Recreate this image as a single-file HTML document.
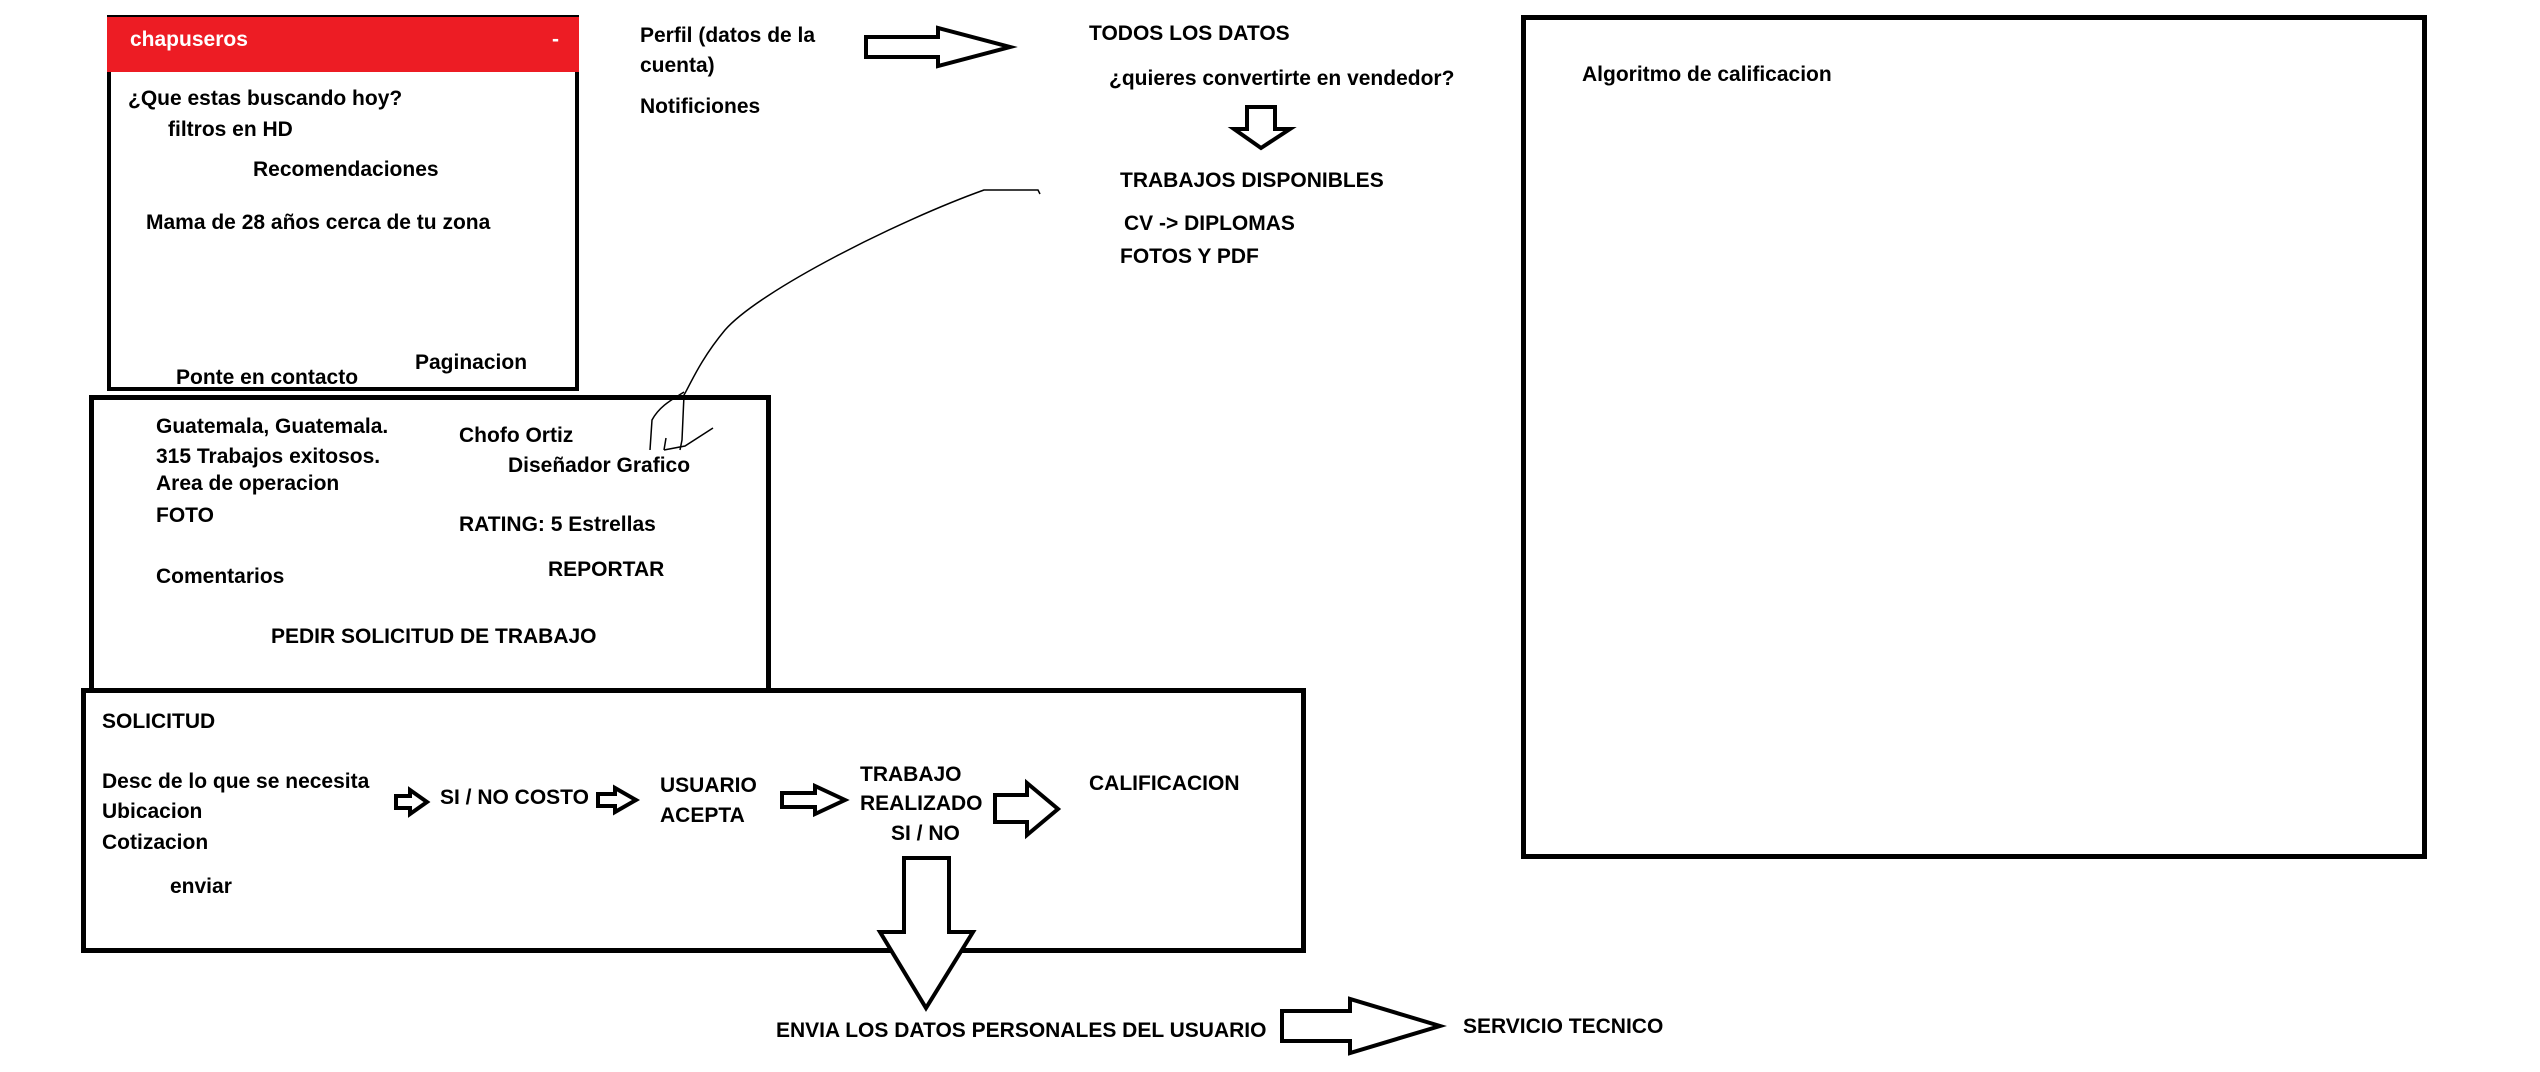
<!DOCTYPE html>
<html><head><meta charset="utf-8"><style>
body{margin:0;width:2540px;height:1072px;background:#fff;position:relative;overflow:hidden;font-family:"Liberation Sans",sans-serif;font-weight:bold;font-size:21px;color:#000}
.t{position:absolute;line-height:24px;white-space:nowrap}
.b{position:absolute;box-sizing:border-box;border:5px solid #000}
svg{position:absolute;left:0;top:0}
</style></head><body>
<div class="b" style="left:107px;top:15px;width:472px;height:376px;border-width:4px"></div>
<div style="position:absolute;left:107px;top:15px;width:472px;height:57px;background:#ed1c24;border-top:2px solid #000;box-sizing:border-box"></div>
<div class="t" style="left:130px;top:28px;color:#fff">chapuseros</div>
<div class="t" style="left:552px;top:28px;color:#fff">-</div>
<div class="t" style="left:128px;top:87px">¿Que estas buscando hoy?</div>
<div class="t" style="left:168px;top:118px">filtros en HD</div>
<div class="t" style="left:253px;top:158px">Recomendaciones</div>
<div class="t" style="left:146px;top:211px">Mama de 28 años cerca de tu zona</div>
<div class="t" style="left:415px;top:351px">Paginacion</div>
<div class="t" style="left:176px;top:366px">Ponte en contacto</div>

<div class="t" style="left:640px;top:24px">Perfil (datos de la</div>
<div class="t" style="left:640px;top:54px">cuenta)</div>
<div class="t" style="left:640px;top:95px">Notificiones</div>
<div class="t" style="left:1089px;top:22px">TODOS LOS DATOS</div>
<div class="t" style="left:1109px;top:67px">¿quieres convertirte en vendedor?</div>
<div class="t" style="left:1120px;top:169px">TRABAJOS DISPONIBLES</div>
<div class="t" style="left:1124px;top:212px">CV -&gt; DIPLOMAS</div>
<div class="t" style="left:1120px;top:245px">FOTOS Y PDF</div>

<div class="b" style="left:1521px;top:15px;width:906px;height:844px"></div>
<div class="t" style="left:1582px;top:63px">Algoritmo de calificacion</div>

<div class="b" style="left:89px;top:395px;width:682px;height:298px"></div>
<div class="t" style="left:156px;top:415px">Guatemala, Guatemala.</div>
<div class="t" style="left:156px;top:445px">315 Trabajos exitosos.</div>
<div class="t" style="left:156px;top:472px">Area de operacion</div>
<div class="t" style="left:156px;top:504px">FOTO</div>
<div class="t" style="left:459px;top:424px">Chofo Ortiz</div>
<div class="t" style="left:508px;top:454px">Diseñador Grafico</div>
<div class="t" style="left:459px;top:513px">RATING: 5 Estrellas</div>
<div class="t" style="left:156px;top:565px">Comentarios</div>
<div class="t" style="left:548px;top:558px">REPORTAR</div>
<div class="t" style="left:271px;top:625px">PEDIR SOLICITUD DE TRABAJO</div>

<div class="b" style="left:81px;top:688px;width:1225px;height:265px;background:transparent"></div>
<div class="t" style="left:102px;top:710px">SOLICITUD</div>
<div class="t" style="left:102px;top:770px">Desc de lo que se necesita</div>
<div class="t" style="left:102px;top:800px">Ubicacion</div>
<div class="t" style="left:102px;top:831px">Cotizacion</div>
<div class="t" style="left:170px;top:875px">enviar</div>
<div class="t" style="left:440px;top:786px">SI / NO COSTO</div>
<div class="t" style="left:660px;top:774px">USUARIO</div>
<div class="t" style="left:660px;top:804px">ACEPTA</div>
<div class="t" style="left:860px;top:763px">TRABAJO</div>
<div class="t" style="left:860px;top:792px">REALIZADO</div>
<div class="t" style="left:891px;top:822px">SI / NO</div>
<div class="t" style="left:1089px;top:772px">CALIFICACION</div>
<div class="t" style="left:776px;top:1019px">ENVIA LOS DATOS PERSONALES DEL USUARIO</div>
<div class="t" style="left:1463px;top:1015px">SERVICIO TECNICO</div>

<svg width="2540" height="1072" viewBox="0 0 2540 1072" fill="none" stroke="#000">
<g stroke-width="4" fill="#fff">
<polygon points="866,37 938,37 938,28 1010,47 938,66 938,57 866,57"/>
<polygon points="1247,107 1275,107 1275,129 1290,129 1261,148 1234,129 1247,129"/>
<polygon points="396,796 410,796 410,790 427,802 410,814 410,808 396,808"/>
<polygon points="598,794 615,794 615,788 636,800 615,812 615,806 598,806"/>
<polygon points="782,793 815,793 815,786 845,800 815,814 815,807 782,807"/>
<polygon points="995,795 1027,795 1027,783 1058,809 1027,835 1027,822 995,822"/>
<polygon points="904,858 949,858 949,932 973,932 926,1008 880,932 904,932"/>
<polygon points="1282,1011 1350,1011 1350,999 1440,1026 1350,1053 1350,1041 1282,1041"/>
</g>
<g stroke-width="1.5">
<path d="M1040,194 L1038,190 L984,190 C900,220 760,290 725,330 C700,360 690,385 684,395 L682,440 L680,450"/>
<path d="M650,450 L652,420 C660,405 675,398 684,392"/>
<path d="M664,450 L666,438 M664,450 L685,446 L713,428"/>
</g>
</svg>
</body></html>
